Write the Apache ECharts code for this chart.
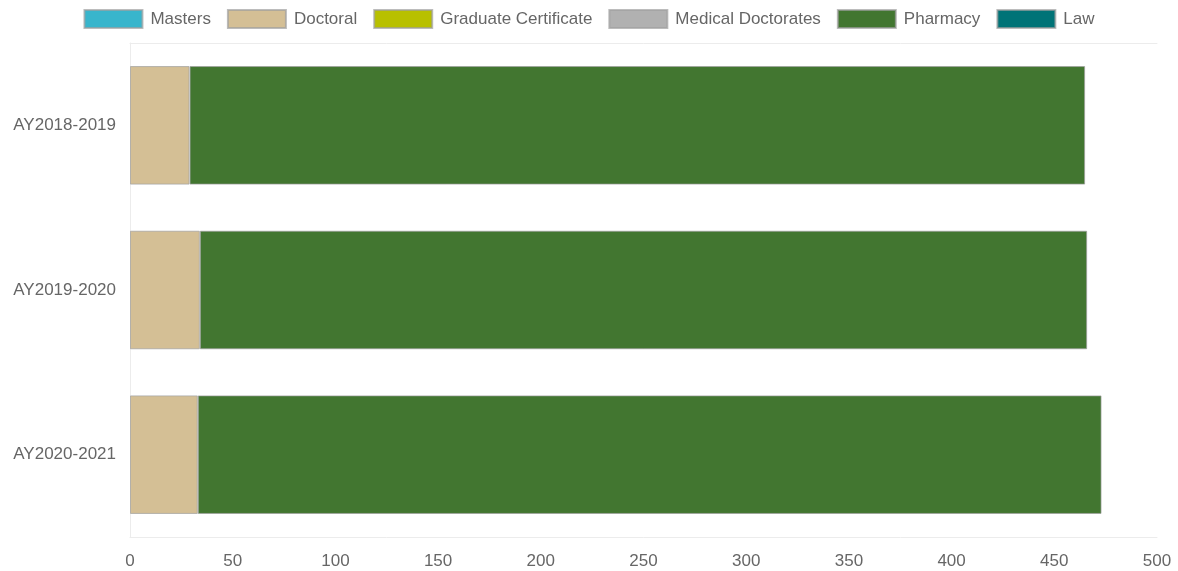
<!DOCTYPE html>
<html>
<head>
<meta charset="utf-8">
<script src="https://cdn.jsdelivr.net/npm/echarts@6/dist/echarts.min.js"></script>
<style>
  html, body { margin: 0; padding: 0; background: #fff; }
  #chart { width: 1178px; height: 571px; }
</style>
</head>
<body>
<div id="chart"></div>
<script>
// Academic years shown as rows, top to bottom
const years = ['AY2018-2019', 'AY2019-2020', 'AY2020-2021'];

// Enrollment counts per program type (null = no students)
const masters = [null, null, null];
const doctoral = [29, 34, 33];
const gradCertificate = [null, null, null];
const medicalDoctorates = [null, null, null];
const pharmacy = [436, 432, 440];
const law = [null, null, null];

const seriesDefs = [
  { name: 'Masters', data: masters, color: '#38b5cc' },
  { name: 'Doctoral', data: doctoral, color: '#d4bf95' },
  { name: 'Graduate Certificate', data: gradCertificate, color: '#b8c000' },
  { name: 'Medical Doctorates', data: medicalDoctorates, color: '#b1b1b1' },
  { name: 'Pharmacy', data: pharmacy, color: '#427630' },
  { name: 'Law', data: law, color: '#007377' }
];

const font = 'Liberation Sans, Arial, Helvetica, sans-serif';
const lineColor = '#ececec';

const chart = echarts.init(document.getElementById('chart'));
chart.setOption({
  animation: false,
  textStyle: { fontFamily: font },
  legend: {
    top: 4,
    left: 'center',
    icon: 'rect',
    itemWidth: 58,
    itemHeight: 18,
    itemGap: 16,
    textStyle: { color: '#666', fontSize: 17, fontFamily: font, padding: [0, 0, 0, 3] }
  },
  grid: { left: 130, right: 21, top: 43, bottom: 34, containLabel: false },
  xAxis: [
    {
      type: 'value',
      min: 0,
      max: 500,
      interval: 50,
      axisLine: { show: true, lineStyle: { color: lineColor } },
      axisTick: { show: false },
      splitLine: { show: false },
      axisLabel: { color: '#666', fontSize: 17, margin: 16, fontFamily: font }
    },
    {
      type: 'value',
      position: 'top',
      min: 0,
      max: 500,
      axisLine: { show: true, lineStyle: { color: lineColor } },
      axisTick: { show: false },
      axisLabel: { show: false },
      splitLine: { show: false }
    }
  ],
  yAxis: {
    type: 'category',
    data: years,
    inverse: true,
    axisLine: { show: true, lineStyle: { color: lineColor } },
    axisTick: { show: false },
    axisLabel: { color: '#666', fontSize: 17, margin: 14, fontFamily: font }
  },
  series: seriesDefs.map(s => ({
    name: s.name,
    type: 'bar',
    stack: 'total',
    xAxisIndex: 0,
    barCategoryGap: '28%',
    data: s.data,
    itemStyle: {
      color: s.color,
      borderColor: 'rgba(160,160,160,0.7)',
      borderWidth: 1
    }
  }))
});
</script>
</body>
</html>
